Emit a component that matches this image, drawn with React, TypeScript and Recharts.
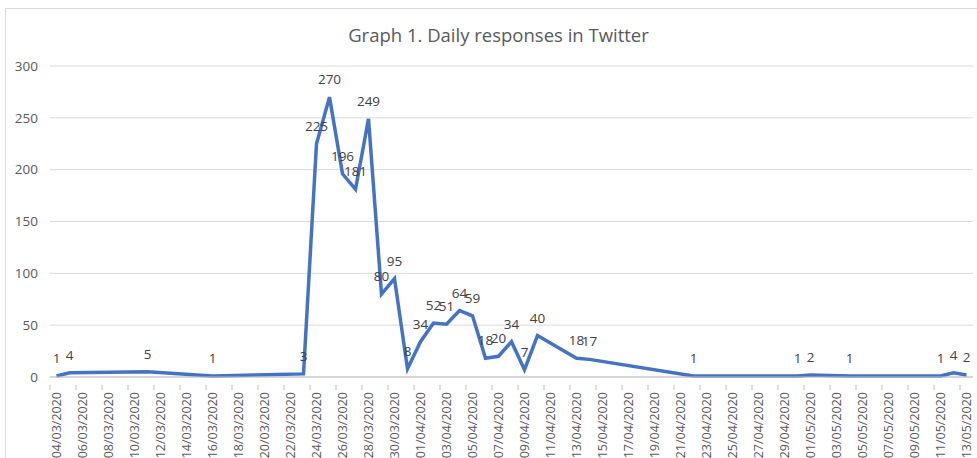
import React from "react";
import { LineChart, Line, XAxis, YAxis, CartesianGrid, LabelList } from "recharts";

const dates = [
  "04/03/2020", "05/03/2020", "11/03/2020", "16/03/2020", "23/03/2020", "24/03/2020",
  "25/03/2020", "26/03/2020", "27/03/2020", "28/03/2020", "29/03/2020", "30/03/2020",
  "31/03/2020", "01/04/2020", "02/04/2020", "03/04/2020", "04/04/2020", "05/04/2020",
  "06/04/2020", "07/04/2020", "08/04/2020", "09/04/2020", "10/04/2020", "13/04/2020",
  "14/04/2020", "22/04/2020", "30/04/2020", "01/05/2020", "04/05/2020", "11/05/2020",
  "12/05/2020", "13/05/2020",
];

const responses = [
  1, 4, 5, 1, 3, 225, 270, 196, 181, 249, 80, 95, 8, 34, 52, 51, 64, 59, 18, 20, 34, 7, 40,
  18, 17, 1, 1, 2, 1, 1, 4, 2,
];

const yTicks = [0, 50, 100, 150, 200, 250, 300];

const START = Date.UTC(2020, 2, 4);
const DAY = 86400000;

const toDay = (s: string) => {
  const [d, m, y] = s.split("/").map(Number);
  return Math.round((Date.UTC(y, m - 1, d) - START) / DAY);
};

const fromDay = (n: number) => {
  const dt = new Date(START + n * DAY);
  const dd = String(dt.getUTCDate()).padStart(2, "0");
  const mm = String(dt.getUTCMonth() + 1).padStart(2, "0");
  return `${dd}/${mm}/${dt.getUTCFullYear()}`;
};

const data = dates.map((d, i) => ({ day: toDay(d), value: responses[i] }));
const lastDay = toDay(dates[dates.length - 1]);
const xTicks = Array.from({ length: Math.floor(lastDay / 2) + 1 }, (_, i) => i * 2);

const FONT = "Open Sans, sans-serif";

function DateTick(props: any) {
  const { x, y, payload } = props;
  return (
    <g>
      <line x1={x - 6.5} x2={x - 6.5} y1={y} y2={y + 5} stroke="#bfbfbf" />
      <text
        x={x + 4}
        y={y + 7}
        transform={`rotate(-90 ${x + 4} ${y + 7})`}
        textAnchor="end"
        fontSize={12.5}
        fill="#595959"
        fontFamily={FONT}
      >
        {fromDay(payload.value)}
      </text>
    </g>
  );
}

export default function App() {
  return (
    <div
      style={{
        position: "absolute",
        left: 0,
        top: 0,
        width: 977,
        height: 458,
        background: "#fff",
        overflow: "hidden",
        fontFamily: FONT,
      }}
    >
      <div
        style={{
          position: "absolute",
          left: 5,
          top: 8,
          width: 990,
          height: 480,
          border: "1px solid #d9d9d9",
        }}
      />
      <div
        style={{
          position: "absolute",
          top: 22,
          left: 0,
          width: 997,
          textAlign: "center",
          fontSize: 18.5,
          color: "#595959",
        }}
      >
        Graph 1. Daily responses in Twitter
      </div>
      <div style={{ position: "absolute", left: 0, top: 0 }}>
        <LineChart
          width={977}
          height={458}
          data={data}
          margin={{ top: 66, right: 4, bottom: 0, left: 0 }}
        >
          <CartesianGrid vertical={false} stroke="#d9d9d9" />
          <XAxis
            type="number"
            dataKey="day"
            domain={[-0.5, lastDay + 0.5]}
            ticks={xTicks}
            interval={0}
            tick={<DateTick />}
            tickLine={false}
            axisLine={{ stroke: "#bfbfbf" }}
            height={81}
          />
          <YAxis
            domain={[0, 300]}
            ticks={yTicks}
            width={50}
            axisLine={false}
            tickLine={false}
            tickSize={0}
            tickMargin={12}
            tick={{ fontSize: 13.5, fill: "#595959", fontFamily: FONT }}
          />
          <Line
            type="linear"
            dataKey="value"
            stroke="#4472c4"
            strokeWidth={3.5}
            dot={false}
            isAnimationActive={false}
          >
            <LabelList
              dataKey="value"
              position="top"
              offset={13}
              style={{ fontSize: 13.5, fill: "#404040", fontFamily: FONT }}
            />
          </Line>
        </LineChart>
      </div>
    </div>
  );
}
